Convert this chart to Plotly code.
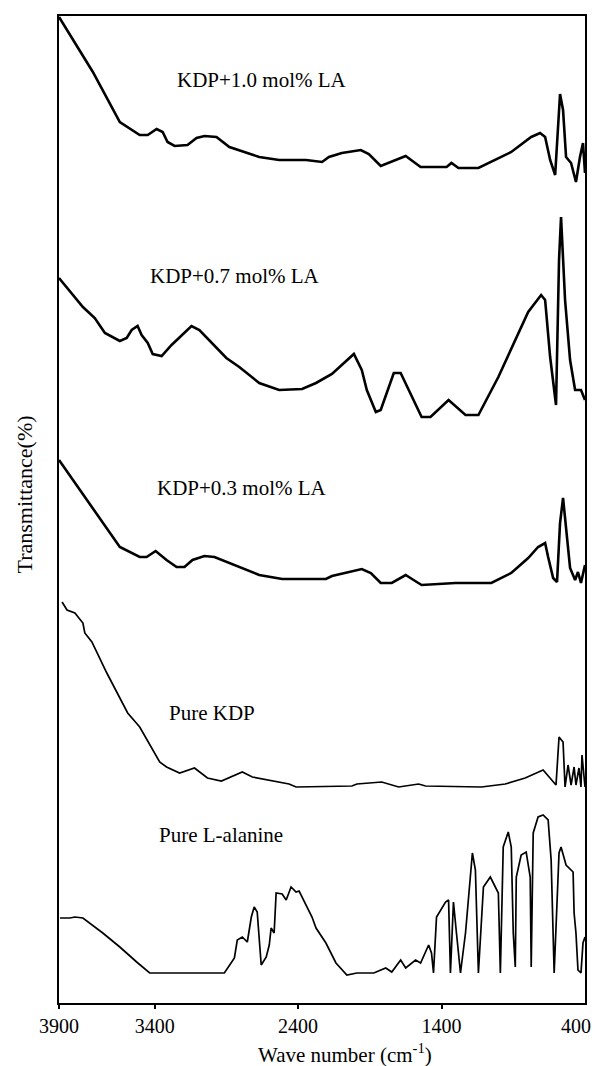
import numpy as np
import plotly.graph_objects as go

# ---------------- data (wavenumber cm-1, transmittance in arbitrary units) ----------------
wn_10 = [3900, 3723, 3582, 3478, 3436, 3386, 3344, 3310, 3261, 3171, 3108, 3053, 2969, 2879,
         2671, 2532, 2345, 2233, 2185, 2095, 1963, 1907, 1824, 1650, 1546, 1365, 1331, 1282,
         1143, 914, 775, 713, 678, 643, 608, 574, 553, 532, 497, 463, 435, 414, 400]
t_10 = [986, 931, 881, 868, 868, 874, 871, 861, 857, 858, 865, 867, 866, 856,
        846, 843, 843, 841, 846, 850, 853, 849, 837, 847, 836, 836, 840, 835,
        835, 851, 866, 870, 866, 843, 828, 909, 893, 846, 840, 821, 846, 860, 830]

wn_07 = [3900, 3775, 3713, 3660, 3582, 3546, 3520, 3489, 3468, 3436, 3410, 3351, 3282, 3143,
         3088, 2900, 2810, 2671, 2532, 2372, 2275, 2164, 2011, 1956, 1921, 1858, 1824, 1733,
         1685, 1629, 1539, 1477, 1351, 1233, 1143, 1004, 886, 796, 706, 678, 643, 602, 581,
         567, 539, 504, 469, 428, 400]
t_07 = [725, 696, 685, 670, 662, 665, 673, 677, 668, 660, 649, 647, 658, 677,
        673, 645, 636, 620, 613, 614, 620, 629, 649, 633, 613, 591, 593, 630,
        630, 613, 586, 586, 603, 588, 588, 626, 663, 691, 708, 703, 646, 598, 743,
        786, 703, 643, 613, 613, 603]

wn_03 = [3900, 3754, 3671, 3582, 3478, 3442, 3393, 3317, 3247, 3192, 3136, 3053, 2983, 2879,
         2671, 2511, 2206, 2164, 1956, 1893, 1824, 1747, 1650, 1595, 1539, 1303, 1053, 914,
         796, 727, 678, 657, 622, 595, 574, 553, 532, 504, 469, 449, 428, 400]
t_03 = [543, 503, 480, 456, 446, 446, 452, 443, 436, 436, 443, 447, 446, 440,
        428, 424, 424, 427, 434, 430, 420, 420, 428, 423, 418, 420, 420, 430,
        445, 456, 460, 446, 425, 421, 480, 505, 473, 435, 423, 431, 420, 438]

wn_kdp = [3884, 3858, 3817, 3775, 3765, 3728, 3650, 3541, 3478, 3365, 3317, 3226, 3122, 3088,
          3032, 2935, 2789, 2719, 2463, 2414, 2025, 1990, 1817, 1699, 1560, 1511, 1122, 956,
          817, 692, 636, 602, 581, 553, 539, 518, 497, 476, 463, 442, 428, 421, 400]
t_kdp = [401, 393, 390, 380, 370, 361, 330, 290, 276, 241, 236, 230, 235, 231,
         225, 222, 231, 226, 219, 216, 217, 219, 221, 216, 219, 217, 216, 219,
         225, 233, 223, 218, 266, 261, 216, 238, 218, 236, 218, 235, 216, 248, 216]

wn_la = [3895, 3843, 3817, 3775, 3671, 3582, 3494, 3426, 2914, 2844, 2824, 2789, 2754, 2726,
         2706, 2685, 2657, 2622, 2601, 2588, 2567, 2553, 2511, 2483, 2449, 2414, 2393, 2372,
         2303, 2275, 2206, 2136, 2060, 1990, 1872, 1789, 1747, 1685, 1650, 1581, 1546, 1490,
         1470, 1456, 1435, 1372, 1351, 1338, 1317, 1296, 1268, 1233, 1199, 1185, 1164, 1143,
         1108, 1060, 1004, 990, 970, 935, 914, 900, 886, 879, 845, 810, 782, 775, 761, 727,
         692, 657, 636, 615, 581, 567, 532, 483, 476, 463, 449, 428, 414, 400]
t_la = [85, 85, 86, 85, 70, 56, 41, 30, 30, 45, 63, 66, 61, 86,
        96, 91, 38, 46, 58, 75, 70, 110, 109, 103, 116, 111, 112, 106,
        86, 75, 60, 40, 28, 30, 30, 35, 31, 43, 35, 43, 40, 58,
        50, 30, 86, 101, 103, 30, 101, 70, 30, 70, 130, 150, 133, 30,
        116, 126, 110, 30, 156, 171, 156, 70, 36, 126, 148, 151, 126, 36, 170, 186,
        188, 183, 143, 30, 150, 156, 138, 131, 90, 70, 33, 30, 60, 66]

series_names = ["KDP+1.0 mol% LA", "KDP+0.7 mol% LA", "KDP+0.3 mol% LA", "Pure KDP", "Pure L-alanine"]

tick_wn = [3900, 3400, 2400, 1400, 400]
tick_labels = ["3900", "3400", "2400", "1400", "400"]

# ---------------- axis scale (the original axis is piecewise-linear between its labels) ----------------
TICK_POS = np.array([0, 96, 240, 384, 528], dtype=float)


def to_pos(wn):
    wn = np.asarray(wn, dtype=float)
    return np.interp(-wn, -np.asarray(tick_wn, dtype=float), TICK_POS)


FONT = "Liberation Serif, Times New Roman, serif"

fig = go.Figure()
datasets = [(wn_10, t_10, 2.6), (wn_07, t_07, 2.6), (wn_03, t_03, 2.6),
            (wn_kdp, t_kdp, 1.7), (wn_la, t_la, 1.7)]
for (wn, t, lw), name in zip(datasets, series_names):
    fig.add_trace(go.Scatter(x=to_pos(wn), y=t, mode="lines", name=name,
                             line=dict(color="black", width=lw), showlegend=False))

# series labels (x given in wavenumber, y in transmittance units)
label_wn = [2650, 2840, 2790, 3000, 2940]
label_y = [923, 727, 515, 290, 168]
for name, lx, ly in zip(series_names, label_wn, label_y):
    fig.add_annotation(x=float(to_pos(lx)), y=ly, xref="x", yref="y", text=name,
                       showarrow=False, font=dict(family=FONT, size=21, color="black"))

# axis titles
fig.add_annotation(x=0.5436, y=-0.051, xref="paper", yref="paper",
                   text="Wave number (cm<sup>-1</sup>)", showarrow=False,
                   xanchor="center", yanchor="middle",
                   font=dict(family=FONT, size=21, color="black"))
fig.add_annotation(x=-0.065, y=0.515, xref="paper", yref="paper",
                   text="Transmittance(%)", showarrow=False, textangle=-90,
                   xanchor="center", yanchor="middle",
                   font=dict(family=FONT, size=22, color="black"))
# last tick label (kept inside the page like in the original)
fig.add_annotation(x=1.015, y=-0.023, xref="paper", yref="paper",
                   text=tick_labels[-1], showarrow=False, xanchor="right", yanchor="middle",
                   font=dict(family=FONT, size=20, color="black"))

fig.update_xaxes(range=[0, 528], tickmode="array", tickvals=list(to_pos(tick_wn[:-1])),
                 ticktext=tick_labels[:-1], ticks="outside", ticklen=4, tickwidth=2,
                 tickcolor="black", showline=True, linecolor="black", linewidth=2, mirror=True,
                 showgrid=False, zeroline=False,
                 tickfont=dict(family=FONT, size=20, color="black"))
fig.update_yaxes(range=[0, 987], showticklabels=False, ticks="", showline=True,
                 linecolor="black", linewidth=2, mirror=True, showgrid=False, zeroline=False)

fig.update_layout(width=596, height=1066, margin=dict(l=59, r=9, t=16, b=63),
                  plot_bgcolor="white", paper_bgcolor="white")

fig.write_html("out.html", config={"displayModeBar": False},
               post_script="document.body.style.margin='0';document.body.style.overflow='hidden';")
